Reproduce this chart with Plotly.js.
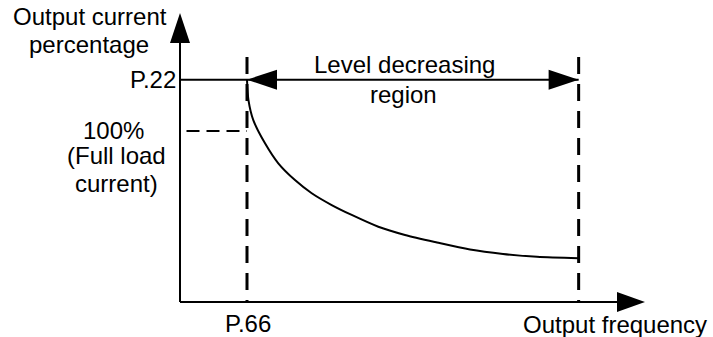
<!DOCTYPE html>
<html><head><meta charset="utf-8">
<script src="https://cdn.plot.ly/plotly-3.0.1.min.js"></script>
<style>html,body{margin:0;padding:0;background:#fff;}#chart{width:713px;height:337px;}</style>
</head><body><div id="chart"></div>
<script>
// ---- data (frequency in arbitrary units, current in %) ----
const yTitleLines = ['Output current', 'percentage'];
const xTitle = 'Output frequency';
const p22Label = 'P.22';
const p66Label = 'P.66';
const fullLoadLines = ['100%', '(Full load', 'current)'];
const regionLines = ['Level decreasing', 'region'];

const p66 = 10;        // start frequency of level decreasing region
const fEnd = 59.5;     // end frequency of level decreasing region
const p22 = 130;       // P.22 current level (%)
const fullLoad = 100;  // full load current (%)
const xAxisEnd = 69.4;
const yAxisEnd = 169;

const curveFreq = [10, 10.22, 10.94, 12.69, 14.67, 17.16, 19.66, 22.64, 25.63, 29.60, 33.58, 38.36, 43.28, 48.21, 53.28, 59.5];
const curvePct  = [130, 118.1, 106.4, 92.8, 81.1, 71.3, 63.6, 56.7, 50.9, 44.0, 39.2, 34.8, 30.7, 28.1, 26.4, 25.6];

// ---- scale helpers (px per data unit) ----
const W = 713, H = 337;
const SX = 6.7, SY = 1.71;
const X0PX = 180, Y0PX = 302;
const px2x = p => (p - X0PX) / SX;
const py2y = p => (Y0PX - p) / SY;
const dx = p => p / SX;
const dy = p => p / SY;

const black = '#000000';
const FONT = {family: 'Liberation Sans, Arial, sans-serif', size: 24, color: black};

function tri(tipX, tipY, dir, len, half) {
  let pts;
  if (dir === 'up') pts = [[tipX, tipY], [tipX - dx(half), tipY - dy(len)], [tipX + dx(half), tipY - dy(len)]];
  else if (dir === 'right') pts = [[tipX, tipY], [tipX - dx(len), tipY + dy(half)], [tipX - dx(len), tipY - dy(half)]];
  else pts = [[tipX, tipY], [tipX + dx(len), tipY + dy(half)], [tipX + dx(len), tipY - dy(half)]];
  return {type: 'path', xref: 'x', yref: 'y', path: 'M' + pts.map(p => p[0] + ',' + p[1]).join(' L') + ' Z',
          fillcolor: black, line: {color: black, width: 0}};
}
function seg(x0, y0, x1, y1, width, dash) {
  return {type: 'line', xref: 'x', yref: 'y', x0, y0, x1, y1, line: {color: black, width, dash: dash || 'solid'}};
}

const dashTop = py2y(57);
const shapes = [
  seg(0, 0, 0, yAxisEnd - dy(20), 2),
  seg(0, 0, xAxisEnd - dx(20), 0, 2),
  seg(0, p22, p66, p22, 2),
  seg(p66, p22, fEnd, p22, 2),
  seg(p66, dashTop, p66, 0, 3, '17px,10px'),
  seg(fEnd, dashTop, fEnd, 0, 3, '17px,10px'),
  seg(px2x(186.5), fullLoad, p66, fullLoad, 2, '13px,7px'),
  tri(0, yAxisEnd, 'up', 30, 10),
  tri(xAxisEnd, 0, 'right', 28, 10),
  tri(p66, p22, 'left', 30, 10),
  tri(fEnd, p22, 'right', 30, 10)
];

function ann(text, pxX, pxY, xanchor) {
  return {text, x: px2x(pxX), y: py2y(pxY), xref: 'x', yref: 'y', showarrow: false,
          xanchor: xanchor || 'center', yanchor: 'middle', font: FONT};
}
const annotations = [
  ann(yTitleLines[0], 90, 16),
  ann(yTitleLines[1], 89, 44),
  ann(p22Label, 178, 79, 'right'),
  ann(fullLoadLines[0], 113, 130),
  ann(fullLoadLines[1], 116, 155),
  ann(fullLoadLines[2], 116, 183),
  ann(regionLines[0], 404, 64),
  ann(regionLines[1], 403, 94),
  ann(p66Label, 248, 323),
  ann(xTitle, 615, 324)
];

const traces = [{
  x: curveFreq, y: curvePct, type: 'scatter', mode: 'lines',
  line: {color: black, width: 2, shape: 'spline', smoothing: 0.8},
  hoverinfo: 'skip', showlegend: false
}];

const layout = {
  width: W, height: H, autosize: false,
  margin: {l: 0, r: 0, t: 0, b: 0, pad: 0},
  paper_bgcolor: '#ffffff', plot_bgcolor: '#ffffff',
  showlegend: false,
  xaxis: {range: [px2x(0), px2x(W)], visible: false, fixedrange: true},
  yaxis: {range: [py2y(H), py2y(0)], visible: false, fixedrange: true},
  shapes, annotations
};
Plotly.newPlot('chart', traces, layout, {staticPlot: true, displayModeBar: false});
</script></body></html>
